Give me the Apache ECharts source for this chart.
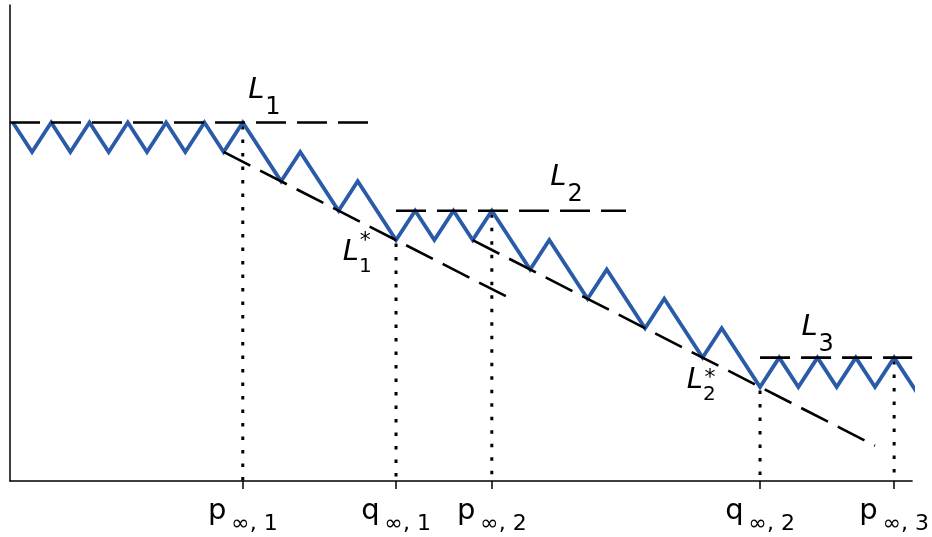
<!DOCTYPE html>
<html>
<head>
<meta charset="utf-8">
<script src="https://cdn.jsdelivr.net/npm/echarts@6/dist/echarts.min.js"></script>
<style>
  html, body { margin: 0; padding: 0; background: #fff; }
  #chart { width: 932px; height: 537px; }
</style>
</head>
<body>
<div id="chart"></div>
<script>
// zigzag path (x in half-periods, y in step heights)
const zigX = [0, 1, 2, 3, 4, 5, 6, 7, 8, 9, 10, 11, 12,
  14, 15, 17, 18, 20,
  21, 22, 23, 24, 25,
  27, 28, 30, 31, 33, 34, 36, 37, 39,
  40, 41, 42, 43, 44, 45, 46, 47.3];
const zigY = [12, 11, 12, 11, 12, 11, 12, 11, 12, 11, 12, 11, 12,
  10, 11, 9, 10, 8,
  9, 8, 9, 8, 9,
  7, 8, 6, 7, 5, 6, 4, 5, 3,
  4, 3, 4, 3, 4, 3, 4, 2.7];

// dashed guide lines: [x0, y0, x1, y1]
const guideL1 = [-0.15, 12, 18.6, 12];
const guideL1s = [11, 11, 26, 6];
const guideL2 = [20, 9, 32, 9];
const guideL2s = [24, 8, 45, 1];
const guideL3 = [39, 4, 46.94, 4];

// dotted drops to the axis
const dropX = [12, 20, 25, 39, 46];
const dropTop = [12, 8, 9, 3, 4];

// tick labels
const tickValues = [12, 20, 25, 39, 46];
const tickMain = ['p', 'q', 'p', 'q', 'p'];
const tickSub = ['∞, 1', '∞, 1', '∞, 2', '∞, 2', '∞, 3'];

// annotation text: [x, y, text]
const notes = [
  [12.28, 13.6, '{L|L}{s|1}'],
  [28.05, 10.63, '{L|L}{s|2}'],
  [41.16, 5.52, '{L|L}{s|3}'],
  [17.22, 8.08, '{L|L}{t|1}'],
  [18.1, 8.33, '{st|*}'],
  [35.18, 3.72, '{L|L}{t|2}'],
  [36.1, 3.66, '{st|*}']
];

const font = 'DejaVu Sans';
const blue = '#2a5ba8';

function seg(g) {
  return [[g[0], g[1]], [g[2], g[3]]];
}

function dashed(g) {
  return {
    type: 'line',
    data: seg(g),
    symbol: 'none',
    silent: true,
    z: 3,
    lineStyle: { color: '#000', width: 2.6, type: [30, 11], cap: 'butt' }
  };
}

let series = [];

dropX.forEach((x, i) => {
  series.push({
    type: 'line',
    data: [[x, dropTop[i] - 0.12], [x, -0.2]],
    symbol: 'none',
    silent: true,
    z: 1,
    lineStyle: { color: '#000', width: 3, type: [3.5, 10], cap: 'butt' }
  });
});

series.push({
  type: 'line',
  data: zigX.map((x, i) => [x, zigY[i]]),
  symbol: 'none',
  clip: false,
  silent: true,
  z: 2,
  lineStyle: { color: blue, width: 3.8, join: 'miter' }
});

[guideL1, guideL1s, guideL2, guideL2s, guideL3].forEach(g => series.push(dashed(g)));

series.push({
  type: 'scatter',
  data: notes.map(n => [n[0], n[1], n[2]]),
  symbolSize: 0,
  silent: true,
  z: 5,
  itemStyle: { opacity: 1 },
  label: {
    show: true,
    position: [0, 0],
    align: 'left',
    verticalAlign: 'top',
    color: '#000',
    opacity: 1,
    textBorderWidth: 0,
    formatter: p => p.data[2],
    rich: {
      L: { fontFamily: font, fontStyle: 'italic', fontSize: 29, lineHeight: 30, color: '#000', verticalAlign: 'top' },
      s: { fontFamily: font, fontSize: 24, lineHeight: 30, color: '#000', verticalAlign: 'top', padding: [20, 0, 0, 1] },
      t: { fontFamily: font, fontSize: 20, lineHeight: 30, color: '#000', verticalAlign: 'top', padding: [19, 0, 0, 0] },
      st: { fontFamily: font, fontSize: 22, lineHeight: 22, color: '#000', verticalAlign: 'top' }
    }
  }
});

const chart = echarts.init(document.getElementById('chart'), null, { renderer: 'canvas' });
chart.setOption({
  animation: false,
  backgroundColor: '#fff',
  grid: { left: 10, right: 17, top: 5, bottom: 56, containLabel: false },
  xAxis: {
    type: 'value',
    min: -0.15,
    max: 46.94,
    splitLine: { show: false },
    axisLine: { show: true, onZero: false, lineStyle: { color: '#000', width: 1.5 } },
    axisTick: { show: true, customValues: tickValues, length: 8, lineStyle: { color: '#000', width: 1.5 } },
    axisLabel: {
      show: true,
      customValues: tickValues,
      margin: 16,
      color: '#000',
      formatter: v => {
        const i = tickValues.indexOf(v);
        return i < 0 ? '' : '{m|' + tickMain[i] + '}{s|' + tickSub[i] + '}';
      },
      rich: {
        m: { fontFamily: font, fontSize: 29, lineHeight: 30, color: '#000', verticalAlign: 'top' },
        s: { fontFamily: font, fontSize: 22, lineHeight: 30, color: '#000', verticalAlign: 'top', padding: [16, 0, 0, 5] }
      }
    }
  },
  yAxis: {
    type: 'value',
    min: -0.2,
    max: 16,
    splitLine: { show: false },
    axisLine: { show: true, onZero: false, lineStyle: { color: '#000', width: 1.5 } },
    axisTick: { show: false },
    axisLabel: { show: false }
  },
  series: series
});
</script>
</body>
</html>
